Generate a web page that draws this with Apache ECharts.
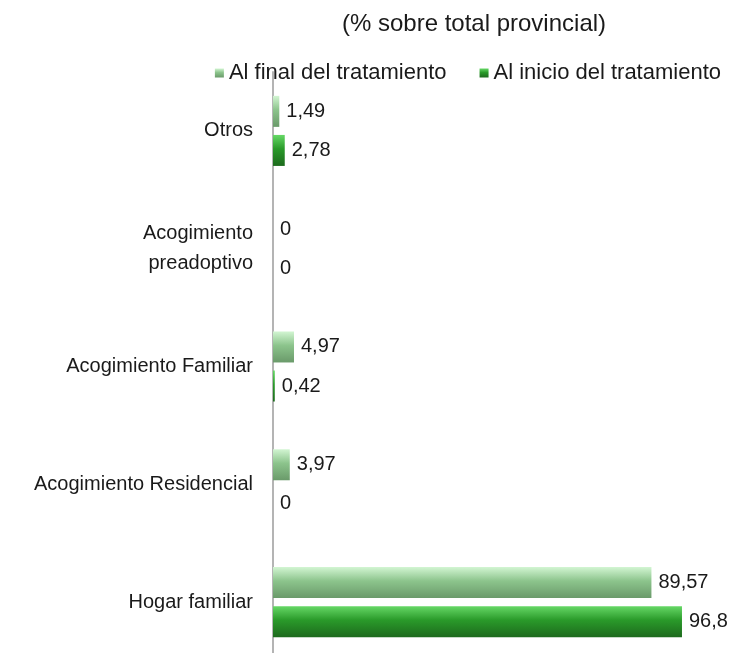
<!DOCTYPE html>
<html>
<head>
<meta charset="utf-8">
<script src="https://cdn.jsdelivr.net/npm/echarts@6/dist/echarts.min.js"></script>
<style>
  html, body { margin: 0; padding: 0; background: #fff; }
  #chart { width: 734px; height: 653px; }
</style>
</head>
<body>
<div id="chart"></div>
<script>
  // categories from bottom to top
  const categories = ['Hogar familiar', 'Acogimiento Residencial', 'Acogimiento Familiar', 'Acogimiento\npreadoptivo', 'Otros']
  const alFinal = [89.57, 3.97, 4.97, 0, 1.49]
  const alInicio = [96.8, 0, 0.42, 0, 2.78]
  const seriesNames = ['Al final del tratamiento', 'Al inicio del tratamiento']

  const fontFamily = '"Liberation Sans", Arial, sans-serif'

  const grad = (c0, c1, c2) => new echarts.graphic.LinearGradient(0, 0, 0, 1, [
    { offset: 0, color: c0 },
    { offset: 0.45, color: c1 },
    { offset: 1, color: c2 }
  ])

  const labelOpt = {
    show: true,
    position: 'right',
    distance: 7,
    color: '#1a1a1a',
    fontSize: 20,
    fontFamily: fontFamily,
    formatter: p => String(p.value).replace('.', ',')
  }

  var myChart = echarts.init(document.getElementById('chart'))
  myChart.setOption({
    animation: false,
    title: {
      text: '(% sobre total provincial)',
      left: 469,
      textAlign: 'center',
      top: 7,
      textStyle: { fontSize: 24, fontWeight: 'normal', color: '#1a1a1a', fontFamily: fontFamily }
    },
    legend: {
      data: seriesNames,
      icon: 'rect',
      right: 8,
      top: 57,
      itemWidth: 9,
      itemHeight: 9,
      itemGap: 33,
      textStyle: { fontSize: 22, color: '#1a1a1a', fontFamily: fontFamily }
    },
    grid: {
      left: 273,
      right: 38.5,
      top: 72,
      bottom: -8,
      outerBoundsMode: 'none'
    },
    xAxis: {
      type: 'value',
      min: 0,
      max: 100,
      show: false
    },
    yAxis: {
      type: 'category',
      data: categories,
      axisLine: { show: true, lineStyle: { color: '#b4b4b4', width: 2 } },
      axisTick: { show: false },
      axisLabel: {
        margin: 20,
        fontSize: 20,
        color: '#1a1a1a',
        fontFamily: fontFamily,
        lineHeight: 30
      }
    },
    series: [
      {
        name: seriesNames[0],
        type: 'bar',
        data: alFinal,
        barWidth: 31,
        barGap: '26%',
        itemStyle: { color: grad('#d2f5d2', '#8cc48c', '#6a9a6a') },
        label: labelOpt
      },
      {
        name: seriesNames[1],
        type: 'bar',
        data: alInicio,
        barWidth: 31,
        itemStyle: { color: grad('#66d866', '#2a9a2a', '#1d6a1d') },
        label: labelOpt
      }
    ]
  })
</script>
</body>
</html>
